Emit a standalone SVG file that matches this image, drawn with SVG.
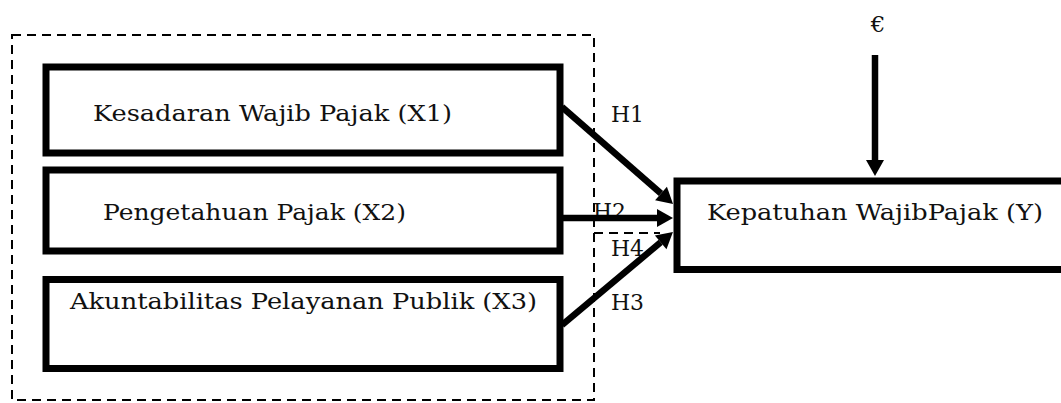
<svg xmlns="http://www.w3.org/2000/svg" width="1061" height="403" viewBox="0 0 1061 403">
  <style>
    .box { fill: #fff; stroke: #000; stroke-width: 7; }
    .lbl { font-family: "DejaVu Serif", "Liberation Serif", serif; font-size: 23px; fill: #111; }
    .dash { fill: none; stroke: #000; stroke-width: 2; stroke-dasharray: 9 6; }
    .arrow { fill: none; stroke: #000; stroke-width: 6.5; marker-end: url(#head); }
  </style>
  <defs>
    <marker id="head" viewBox="0 -9 16 18" refX="0" refY="0" markerWidth="16" markerHeight="18" markerUnits="userSpaceOnUse" orient="auto" overflow="visible">
      <path d="M0,-9 L16,0 L0,9 Z" fill="#000"/>
    </marker>
  </defs>
  <rect width="1061" height="403" fill="#fff"/>

  <!-- dashed grouping frame around the independent variables -->
  <g id="frame">
    <rect class="dash" x="12" y="35" width="582" height="365"/>
    <line class="dash" x1="594" y1="233" x2="660" y2="233"/>
  </g>

  <g id="x1">
    <rect class="box" x="46" y="67" width="514" height="86"/>
    <text class="lbl" x="93" y="121" textLength="359" lengthAdjust="spacingAndGlyphs">Kesadaran Wajib Pajak (X1)</text>
  </g>
  <g id="x2">
    <rect class="box" x="46" y="170" width="514" height="81"/>
    <text class="lbl" x="103" y="220" textLength="303" lengthAdjust="spacingAndGlyphs">Pengetahuan Pajak (X2)</text>
  </g>
  <g id="x3">
    <rect class="box" x="46" y="279.5" width="514" height="89"/>
    <text class="lbl" x="70" y="309" textLength="467" lengthAdjust="spacingAndGlyphs">Akuntabilitas Pelayanan Publik (X3)</text>
  </g>
  <g id="y">
    <rect class="box" x="677" y="181" width="420" height="88.5"/>
    <text class="lbl" x="707" y="220" textLength="336" lengthAdjust="spacingAndGlyphs">Kepatuhan WajibPajak (Y)</text>
  </g>
  <g id="e">
    <text class="lbl" x="878" y="32" text-anchor="middle">€</text>
  </g>

  <!-- hypothesis labels -->
  <g id="labels">
    <text class="lbl" x="611" y="122" textLength="33" lengthAdjust="spacingAndGlyphs">H1</text>
    <text class="lbl" x="593" y="219" textLength="33" lengthAdjust="spacingAndGlyphs">H2</text>
    <text class="lbl" x="611" y="256" textLength="33" lengthAdjust="spacingAndGlyphs">H4</text>
    <text class="lbl" x="611" y="310" textLength="33" lengthAdjust="spacingAndGlyphs">H3</text>
  </g>

  <g id="connectors">
    <line class="arrow" x1="562" y1="107" x2="661" y2="193.5"/>
    <line class="arrow" x1="562" y1="218" x2="657" y2="218"/>
    <line class="arrow" x1="562" y1="325" x2="660.7" y2="242.3"/>
    <line class="arrow" x1="875" y1="55" x2="875" y2="160"/>
  </g>
</svg>
